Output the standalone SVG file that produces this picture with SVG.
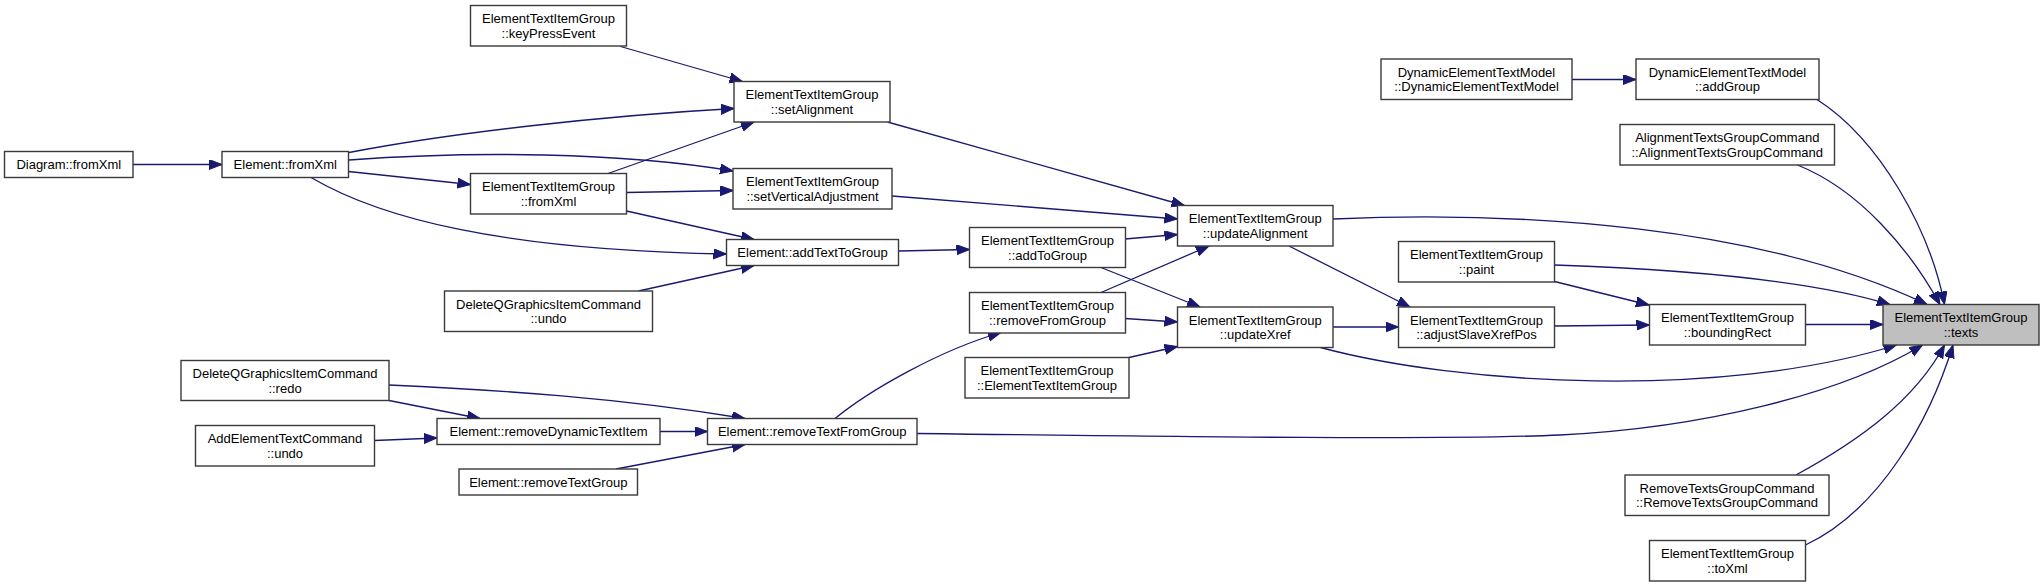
<svg xmlns="http://www.w3.org/2000/svg" width="2044" height="587" viewBox="0 0 2044 587">
<defs>
<style>
.n rect{fill:#ffffff;stroke:#3a3a3a;stroke-width:1.4}
.n.hl rect{fill:#bfbfbf}
.n text{font-family:"Liberation Sans",Arial,sans-serif;font-size:13px;fill:#000;text-anchor:middle}
.e path{fill:none;stroke:#191970;stroke-width:1.3;marker-end:url(#ah)}
</style>
<marker id="ah" markerUnits="userSpaceOnUse" markerWidth="14" markerHeight="11" refX="13" refY="5" orient="auto">
<path d="M0,0 L13,5 L0,10 z" fill="#191970" stroke="#191970" stroke-width="1"/>
</marker>
</defs>
<rect width="2044" height="587" fill="#ffffff"/>
<g id="edges" class="e">
<path d="M133,164.5 L222,164.5"/>
<path d="M349,152.5 C450,133 600,116 734,108.5"/>
<path d="M349,160 C470,151 620,152 733,171"/>
<path d="M348.5,171.5 L470.5,184.5"/>
<path d="M311,177.5 C380,218 500,250 726.5,254"/>
<path d="M620.5,46.5 L742.5,81.5"/>
<path d="M608,173.5 L754,122"/>
<path d="M626.5,192.5 L733,190.5"/>
<path d="M626.5,211 L754,239.5"/>
<path d="M638.5,291 L754,265.5"/>
<path d="M887.5,122 L1184.5,205.5"/>
<path d="M892,196 L1177.5,219"/>
<path d="M898.5,251 L969.5,249.5"/>
<path d="M1125,239 L1177.5,234.5"/>
<path d="M1101,267.5 L1200,307"/>
<path d="M1101,292.5 L1209,246"/>
<path d="M1125,318.5 L1177.5,322"/>
<path d="M1129,357.5 L1177.5,346.5"/>
<path d="M835,418.5 C870,390 940,350 1001,332.5"/>
<path d="M389,400.5 L480,418.5"/>
<path d="M389,385 C500,390 620,398 745,418.5"/>
<path d="M374.5,440.5 L437,438"/>
<path d="M660,431.5 L707.5,431.5"/>
<path d="M616,469 L745,444.5"/>
<path d="M1289,246 L1410,307"/>
<path d="M1333,327 L1398.5,327"/>
<path d="M1333,219 C1520,211 1760,225 1927,304.5"/>
<path d="M1320.5,347.5 C1460,385 1720,400 1896.5,345"/>
<path d="M917,433.5 C1200,437 1450,440 1560,435 C1700,428 1840,395 1922.5,345"/>
<path d="M1572,79.5 L1636,79.5"/>
<path d="M1817,99.5 C1880,140 1930,230 1944.5,304.5"/>
<path d="M1797.5,165 C1860,190 1910,250 1940,304.5"/>
<path d="M1554.5,281.5 L1649,305"/>
<path d="M1554.5,265 C1700,270 1820,283 1890,304.5"/>
<path d="M1554.5,326 L1649.5,325"/>
<path d="M1805.5,324.5 L1883,324.5"/>
<path d="M1796,475 C1860,440 1915,400 1944.5,345"/>
<path d="M1805.5,545 C1880,510 1930,420 1953,345"/>
</g>
<g id="n_diagram_fromXml" class="n"><rect x="4.5" y="151.5" width="128.5" height="26"/><text x="68.75" y="169">Diagram::fromXml</text></g>
<g id="n_element_fromXml" class="n"><rect x="222" y="151.5" width="126.5" height="26"/><text x="285.25" y="169">Element::fromXml</text></g>
<g id="n_keyPressEvent" class="n"><rect x="470.5" y="5.5" width="156" height="40.5"/><text x="548.5" y="23">ElementTextItemGroup</text><text x="548.5" y="37.5">::keyPressEvent</text></g>
<g id="n_etig_fromXml" class="n"><rect x="470.5" y="173.5" width="156" height="40.5"/><text x="548.5" y="191">ElementTextItemGroup</text><text x="548.5" y="205.5">::fromXml</text></g>
<g id="n_setAlignment" class="n"><rect x="734" y="81.5" width="156" height="40.5"/><text x="812" y="99">ElementTextItemGroup</text><text x="812" y="113.5">::setAlignment</text></g>
<g id="n_setVerticalAdjustment" class="n"><rect x="733" y="168.5" width="159" height="40.5"/><text x="812.5" y="186">ElementTextItemGroup</text><text x="812.5" y="200.5">::setVerticalAdjustment</text></g>
<g id="n_addTextToGroup" class="n"><rect x="726.5" y="239.5" width="172" height="26"/><text x="812.5" y="257">Element::addTextToGroup</text></g>
<g id="n_deleteQ_undo" class="n"><rect x="444.5" y="291" width="208" height="40.5"/><text x="548.5" y="308.5">DeleteQGraphicsItemCommand</text><text x="548.5" y="323">::undo</text></g>
<g id="n_addToGroup" class="n"><rect x="969.5" y="227.5" width="156" height="40"/><text x="1047.5" y="245">ElementTextItemGroup</text><text x="1047.5" y="259.5">::addToGroup</text></g>
<g id="n_removeFromGroup" class="n"><rect x="969.5" y="292.5" width="156" height="40.5"/><text x="1047.5" y="310">ElementTextItemGroup</text><text x="1047.5" y="324.5">::removeFromGroup</text></g>
<g id="n_etig_ctor" class="n"><rect x="965" y="357.5" width="164" height="40.5"/><text x="1047" y="375">ElementTextItemGroup</text><text x="1047" y="389.5">::ElementTextItemGroup</text></g>
<g id="n_updateAlignment" class="n"><rect x="1177.5" y="205.5" width="155.5" height="40.5"/><text x="1255.25" y="223">ElementTextItemGroup</text><text x="1255.25" y="237.5">::updateAlignment</text></g>
<g id="n_updateXref" class="n"><rect x="1177.5" y="307" width="155.5" height="40.5"/><text x="1255.25" y="324.5">ElementTextItemGroup</text><text x="1255.25" y="339">::updateXref</text></g>
<g id="n_deleteQ_redo" class="n"><rect x="181" y="360.5" width="208" height="40"/><text x="285" y="378">DeleteQGraphicsItemCommand</text><text x="285" y="392.5">::redo</text></g>
<g id="n_addElementTextCommand_undo" class="n"><rect x="195.5" y="425.5" width="179" height="40.5"/><text x="285" y="443">AddElementTextCommand</text><text x="285" y="457.5">::undo</text></g>
<g id="n_removeDynamicTextItem" class="n"><rect x="437" y="418.5" width="223" height="26"/><text x="548.5" y="436">Element::removeDynamicTextItem</text></g>
<g id="n_removeTextGroup" class="n"><rect x="459" y="469" width="178.5" height="26"/><text x="548.25" y="486.5">Element::removeTextGroup</text></g>
<g id="n_removeTextFromGroup" class="n"><rect x="707.5" y="418.5" width="209.5" height="26"/><text x="812.25" y="436">Element::removeTextFromGroup</text></g>
<g id="n_detm_ctor" class="n"><rect x="1381" y="59" width="191" height="40.5"/><text x="1476.5" y="76.5">DynamicElementTextModel</text><text x="1476.5" y="91">::DynamicElementTextModel</text></g>
<g id="n_addGroup" class="n"><rect x="1636" y="59" width="183" height="40.5"/><text x="1727.5" y="76.5">DynamicElementTextModel</text><text x="1727.5" y="91">::addGroup</text></g>
<g id="n_alignmentTGC" class="n"><rect x="1620" y="124.5" width="214.5" height="40.5"/><text x="1727.25" y="142">AlignmentTextsGroupCommand</text><text x="1727.25" y="156.5">::AlignmentTextsGroupCommand</text></g>
<g id="n_paint" class="n"><rect x="1398.5" y="241.5" width="156" height="40.5"/><text x="1476.5" y="259">ElementTextItemGroup</text><text x="1476.5" y="273.5">::paint</text></g>
<g id="n_adjustSlaveXrefPos" class="n"><rect x="1398.5" y="307" width="156" height="40.5"/><text x="1476.5" y="324.5">ElementTextItemGroup</text><text x="1476.5" y="339">::adjustSlaveXrefPos</text></g>
<g id="n_boundingRect" class="n"><rect x="1649.5" y="304.5" width="156" height="40.5"/><text x="1727.5" y="322">ElementTextItemGroup</text><text x="1727.5" y="336.5">::boundingRect</text></g>
<g id="n_texts" class="n hl"><rect x="1883" y="304.5" width="156" height="40.5"/><text x="1961" y="322">ElementTextItemGroup</text><text x="1961" y="336.5">::texts</text></g>
<g id="n_removeTGC" class="n"><rect x="1625" y="475" width="204" height="40.5"/><text x="1727" y="492.5">RemoveTextsGroupCommand</text><text x="1727" y="507">::RemoveTextsGroupCommand</text></g>
<g id="n_toXml" class="n"><rect x="1649.5" y="540.5" width="156" height="40.5"/><text x="1727.5" y="558">ElementTextItemGroup</text><text x="1727.5" y="572.5">::toXml</text></g>
</svg>
